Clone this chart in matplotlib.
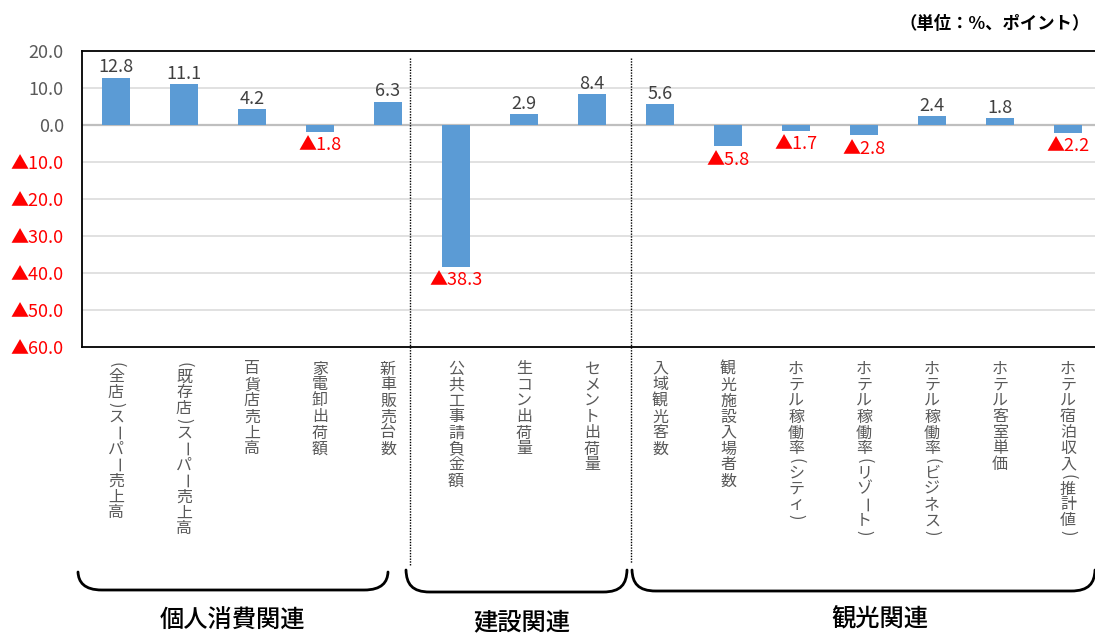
import matplotlib
matplotlib.use("Agg")
import matplotlib.pyplot as plt
from matplotlib.path import Path
from matplotlib.patches import PathPatch
from matplotlib.lines import Line2D
import matplotlib.transforms as mtransforms

plt.rcParams['font.family'] = ['Noto Sans CJK JP', 'DejaVu Sans']

# ---------------- data ----------------
categories = [
    "（全店）スーパー売上高", "（既存店）スーパー売上高", "百貨店売上高", "家電卸出荷額", "新車販売台数",
    "公共工事請負金額", "生コン出荷量", "セメント出荷量",
    "入域観光客数", "観光施設入場者数", "ホテル稼働率（シティ）", "ホテル稼働率（リゾート）",
    "ホテル稼働率（ビジネス）", "ホテル客室単価", "ホテル宿泊収入（推計値）",
]
values = [12.8, 11.1, 4.2, -1.8, 6.3, -38.3, 2.9, 8.4, 5.6, -5.8, -1.7, -2.8, 2.4, 1.8, -2.2]
yticks = [20, 10, 0, -10, -20, -30, -40, -50, -60]
groups = ["個人消費関連", "建設関連", "観光関連"]
unit_text = "（単位：%、ポイント）"

W, H = 1095, 633
fig = plt.figure(figsize=(W / 100, H / 100), dpi=100)
fig.patch.set_facecolor("white")

def fx(px):
    return px / W

def fy(py):
    return 1 - py / H

ax_l, ax_r, ax_t, ax_b = 82, 1102, 51, 347
ax = fig.add_axes([fx(ax_l), fy(ax_b), fx(ax_r - ax_l), (ax_b - ax_t) / H])
ax.set_xlim(-0.5, len(categories) - 0.5)
ax.set_ylim(-60, 20)

x = list(range(len(categories)))
ax.bar(x, values, width=0.4, color="#5B9BD5", zorder=3)

# grid
for t in yticks:
    if t == 0:
        ax.axhline(0, color="#BFBFBF", lw=1.6, zorder=2)
    elif t not in (20, -60):
        ax.axhline(t, color="#D9D9D9", lw=1.1, zorder=1)

ax.set_xticks([])
ax.set_yticks(yticks)
ylabels = [f"{t:.1f}" if t >= 0 else f"▲{abs(t):.1f}" for t in yticks]
ax.set_yticklabels(ylabels, fontsize=13)
for lab, t in zip(ax.get_yticklabels(), yticks):
    lab.set_color("#595959" if t >= 0 else "#FF0000")
ax.tick_params(axis="y", length=0, pad=13)

for s in ["left", "top", "bottom"]:
    ax.spines[s].set_color("black")
    ax.spines[s].set_linewidth(1.3)
ax.spines["right"].set_visible(False)

# data labels
for xi, v in zip(x, values):
    if v >= 0:
        ax.annotate(f"{v:.1f}", (xi, v), xytext=(0, 1), textcoords="offset points",
                    ha="center", va="bottom", fontsize=13, color="#404040")
    else:
        ax.annotate(f"▲{abs(v):.1f}", (xi, v), xytext=(0, -3), textcoords="offset points",
                    ha="center", va="top", fontsize=13, color="#FF0000")

# vertical category labels (one glyph per line; brackets and long-vowel mark turned)
trans = mtransforms.blended_transform_factory(ax.transData, fig.transFigure)
turn = {"（": "(", "）": ")", "ー": "ー"}
steps = {"（": 8, "）": 8, "ー": 16}
for xi, lab in zip(x, categories):
    cur = 361
    for ch in lab:
        step = steps.get(ch, 16)
        shown = turn.get(ch, ch)
        rot = -90 if ch in turn else 0
        fig.text(xi, fy(cur + step / 2), shown, transform=trans, ha="center", va="center",
                 fontsize=11.5, color="#595959", rotation=rot, rotation_mode="default")
        cur += step

# dotted separators
for sx, ey in [(410, 566), (631, 563)]:
    fig.add_artist(Line2D([fx(sx), fx(sx)], [fy(58), fy(ey)], transform=fig.transFigure,
                          color="black", lw=1.0, linestyle=(0, (1, 1))))

# braces
def brace(x0, x1, yt, yb):
    r = 24
    verts = [
        (x0, yt),
        (x0 + 0.5, yb - 8), (x0 + 6, yb), (x0 + r, yb),
        (x1 - r, yb),
        (x1 - 6, yb), (x1 - 0.5, yb - 8), (x1, yt),
    ]
    codes = [Path.MOVETO, Path.CURVE4, Path.CURVE4, Path.CURVE4, Path.LINETO,
             Path.CURVE4, Path.CURVE4, Path.CURVE4]
    verts = [(fx(a), fy(b)) for a, b in verts]
    fig.add_artist(PathPatch(Path(verts, codes), transform=fig.transFigure,
                             fill=False, edgecolor="black", lw=2.0, capstyle="round"))

brace(78, 388, 572, 590)
brace(406, 627, 570, 592)
brace(632, 1095, 570, 591)

for gx, gy, g in [(232, 621, groups[0]), (522, 622, groups[1]), (880, 619, groups[2])]:
    fig.text(fx(gx), fy(gy), g, ha="center", va="center", fontsize=17.5, color="black",
             fontweight="medium")

fig.text(fx(1090), fy(24), unit_text, ha="right", va="center", fontsize=12.5,
         fontweight="bold", color="black")

fig.savefig("out.png", dpi=100)
